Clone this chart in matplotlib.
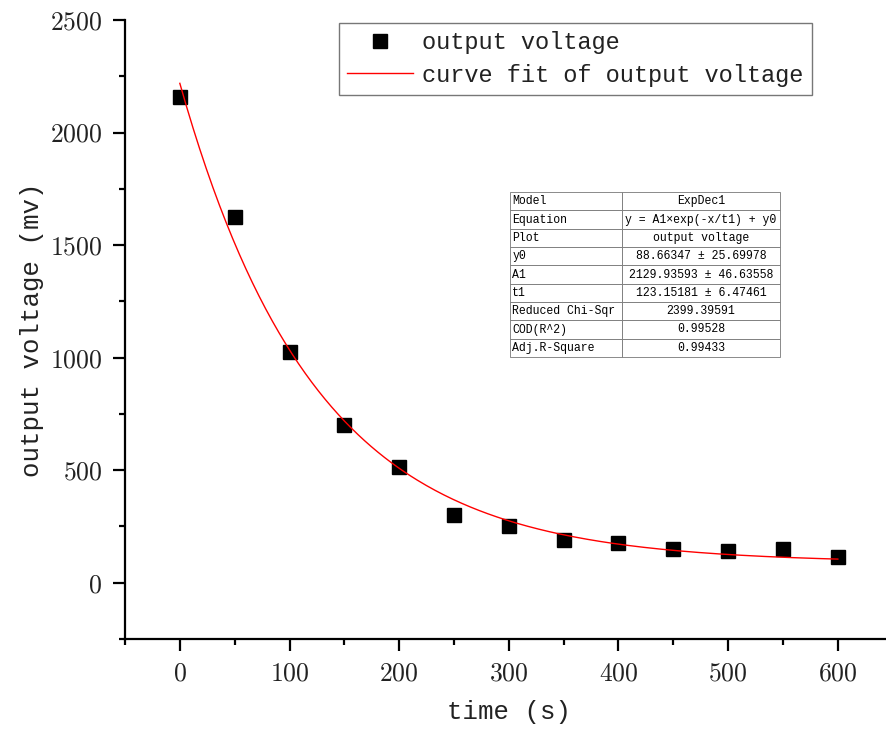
import numpy as np
import matplotlib
matplotlib.use("Agg")
import matplotlib.pyplot as plt
from matplotlib.ticker import MultipleLocator

plt.rcParams['axes.formatter.use_mathtext'] = True

# Data
time_s = [0, 50, 100, 150, 200, 250, 300, 350, 400, 450, 500, 550, 600]
voltage_mv = [2160, 1625, 1025, 702, 513, 303, 253, 191, 178, 151, 142, 151, 115]

# Fit parameters (ExpDec1) from the table
y0 = 88.66347
A1 = 2129.93593
t1 = 123.15181

table_rows = [
    ["Model", "ExpDec1"],
    ["Equation", "y = A1×exp(-x/t1) + y0"],
    ["Plot", "output voltage"],
    ["y0", "88.66347 ± 25.69978"],
    ["A1", "2129.93593 ± 46.63558"],
    ["t1", "123.15181 ± 6.47461"],
    ["Reduced Chi-Sqr", "2399.39591"],
    ["COD(R^2)", "0.99528"],
    ["Adj.R-Square", "0.99433"],
]

W, H = 886, 731
fig = plt.figure(figsize=(W / 100, H / 100), dpi=100)

px_per_x = (838 - 180) / 600.0
left_px = 125
right_px = left_px + 700 * px_per_x
ax = fig.add_axes([left_px / W, 1 - 639 / H, (right_px - left_px) / W, (639 - 20) / H])

fit_x = np.linspace(0, 600, 300)
fit_y = y0 + A1 * np.exp(-fit_x / t1)

ax.plot(time_s, voltage_mv, linestyle='none', marker='s', markersize=9.5,
        color='black', label='output voltage', zorder=3)
ax.plot(fit_x, fit_y, color='red', linewidth=1.0, label='curve fit of output voltage', zorder=4)

ax.set_xlim(-50, 650)
ax.set_ylim(-250, 2500)
ax.xaxis.set_major_locator(MultipleLocator(100))
ax.xaxis.set_minor_locator(MultipleLocator(50))
ax.yaxis.set_major_locator(MultipleLocator(500))
ax.yaxis.set_minor_locator(MultipleLocator(250))

for s in ['top', 'right']:
    ax.spines[s].set_visible(False)
for s in ['left', 'bottom']:
    ax.spines[s].set_linewidth(1.6)

ax.tick_params(which='major', direction='out', length=8.5, width=1.6, labelsize=18.5, pad=8)
ax.tick_params(which='minor', direction='out', length=4.5, width=1.6)
for lab in ax.get_xticklabels() + ax.get_yticklabels():
    lab.set_family('cmr10')
    lab.set_color('#222222')

mono = 'Liberation Mono'
ax.set_xlabel('time (s)', family=mono, fontsize=18.5, labelpad=10, color='#222222')
ax.set_ylabel('output voltage (mv)', family=mono, fontsize=18.5, labelpad=4, color='#222222')

leg = ax.legend(loc='upper right', bbox_to_anchor=(812 / W, 1 - 23 / H),
                bbox_transform=fig.transFigure, prop={'family': mono, 'size': 17},
                frameon=True, fancybox=False, edgecolor='#555555', handlelength=2.8,
                handletextpad=0.4, borderpad=0.35, labelspacing=0.4, borderaxespad=0)
leg.get_frame().set_linewidth(1.0)
for t in leg.get_texts():
    t.set_color('#222222')

tax = fig.add_axes([510 / W, 1 - 357 / H, 270 / W, 165 / H])
tax.axis('off')
tbl = tax.table(cellText=table_rows, bbox=[0, 0, 1, 1], colWidths=[112 / 270, 158 / 270],
                cellLoc='center')
tbl.auto_set_font_size(False)
for (r, c), cell in tbl.get_celld().items():
    cell.set_linewidth(0.6)
    cell.set_edgecolor('#777777')
    txt = cell.get_text()
    txt.set_fontsize(8.3)
    txt.set_family(['Liberation Mono', 'DejaVu Sans'])
    if c == 0:
        txt.set_ha('left')
        cell.PAD = 0.02

fig.savefig('out.png', dpi=100)
